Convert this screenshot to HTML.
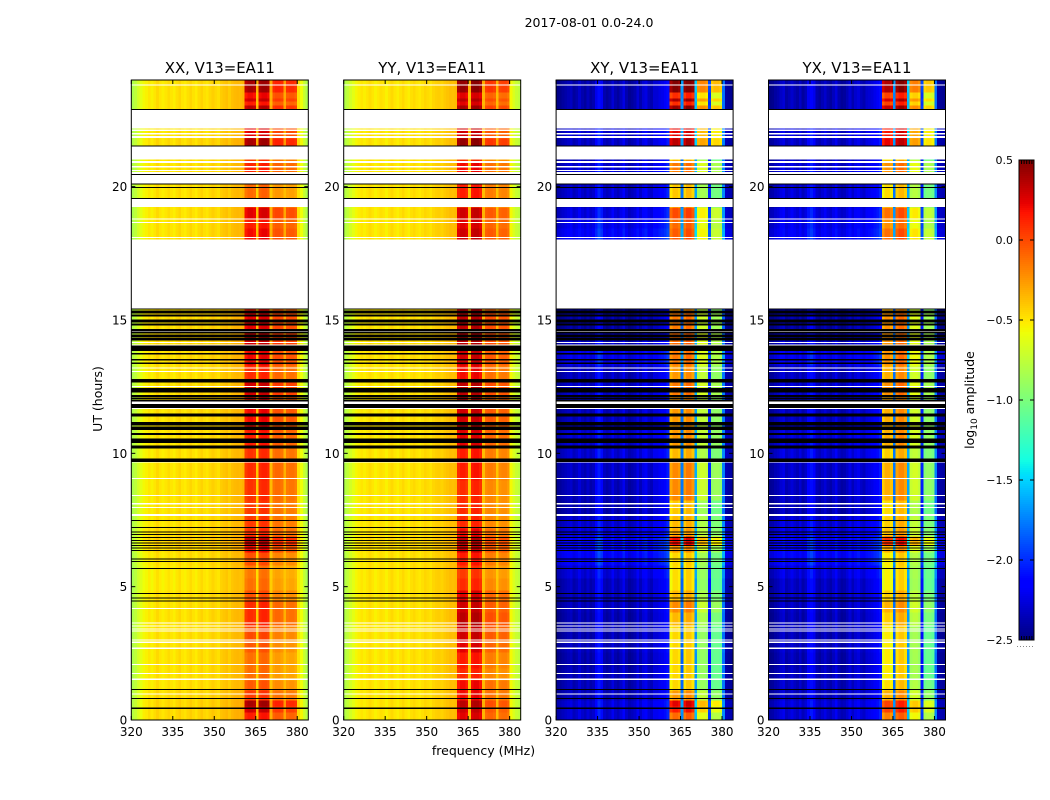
<!DOCTYPE html>
<html lang="en">
<head>
<meta charset="utf-8">
<title>2017-08-01 0.0-24.0</title>
<style>
html,body{margin:0;padding:0;background:#fff;}
svg{display:block;}
text{font-family:"DejaVu Sans","Liberation Sans",sans-serif;fill:#000;}
</style>
</head>
<body>
<svg id="chart" xmlns="http://www.w3.org/2000/svg" width="1050" height="800" viewBox="0 0 1050 800">
  <rect width="1050" height="800" fill="#fff"/>
  <text x="589" y="27" text-anchor="middle" font-size="12.5">2017-08-01 0.0-24.0</text>
  <text x="483.5" y="755" text-anchor="middle" font-size="12.5">frequency (MHz)</text>
  <text transform="translate(102 399) rotate(-90)" text-anchor="middle" font-size="12.5">UT (hours)</text>
  <text transform="translate(974 400) rotate(-90)" text-anchor="middle" font-size="12.5">log<tspan font-size="9" dy="3">10</tspan><tspan dy="-3"> amplitude</tspan></text>
  <g id="panels"></g>
  <g id="colorbar"></g>
</svg>
<script>
// ---- axes data ----
const channelFreqs = [320,321,322,323,324,325,326,327,328,329,330,331,332,333,334,335,336,337,338,339,340,341,342,343,344,345,346,347,348,349,350,351,352,353,354,355,356,357,358,359,360,361,362,363,364,365,366,367,368,369,370,371,372,373,374,375,376,377,378,379,380,381,382,383];
const xTickLabels = [320,335,350,365,380];
const yTickLabels = [0,5,10,15,20];
const colorbarTicks = [0.5,0,-0.5,-1,-1.5,-2,-2.5];
const panelTitles = ["XX, V13=EA11","YY, V13=EA11","XY, V13=EA11","YX, V13=EA11"];

// ---- log10 amplitude per channel, per polarisation ----
const xxProfile = [-0.82,-0.76,-0.68,-0.62,-0.56,-0.54,-0.5,-0.54,-0.5,-0.46,-0.5,-0.53,-0.5,-0.47,-0.5,-0.53,-0.48,-0.45,-0.5,-0.52,-0.48,-0.45,-0.49,-0.52,-0.47,-0.44,-0.48,-0.5,-0.46,-0.43,-0.46,-0.48,-0.42,-0.4,-0.38,-0.42,-0.38,-0.36,-0.35,-0.36,-0.34,-0.05,0,0,-0.03,-0.42,0,0.03,0.03,0,-0.38,-0.2,-0.17,-0.17,-0.2,-0.35,-0.22,-0.2,-0.2,-0.24,-0.48,-0.58,-0.72,-0.82];
const yyProfile = [-0.8,-0.74,-0.68,-0.62,-0.56,-0.53,-0.5,-0.53,-0.5,-0.47,-0.5,-0.54,-0.51,-0.48,-0.5,-0.54,-0.49,-0.46,-0.5,-0.53,-0.49,-0.46,-0.5,-0.53,-0.48,-0.46,-0.49,-0.51,-0.48,-0.45,-0.47,-0.49,-0.45,-0.43,-0.42,-0.44,-0.41,-0.39,-0.37,-0.38,-0.36,-0.05,0,0,-0.05,-0.42,0,0.03,0.03,-0.02,-0.4,-0.3,-0.27,-0.27,-0.3,-0.42,-0.32,-0.3,-0.3,-0.34,-0.56,-0.66,-0.72,-0.76];
const xyProfile = [-2.48,-2.46,-2.42,-2.39,-2.36,-2.33,-2.42,-2.38,-2.3,-2.38,-2.42,-2.34,-2.42,-2.38,-2.22,-2.1,-2.18,-2.38,-2.42,-2.38,-2.28,-2.38,-2.42,-2.34,-2.24,-2.38,-2.45,-2.42,-2.38,-2.28,-2.38,-2.28,-2.24,-2.34,-2.38,-2.28,-2.28,-2.24,-2.22,-2.18,-2.1,-0.55,-0.45,-0.45,-0.5,-1.85,-0.5,-0.4,-0.4,-0.5,-1.7,-0.95,-0.9,-0.9,-0.95,-2.1,-1.12,-1.07,-1.07,-1.12,-1.8,-2.4,-2.44,-2.46];
const yxProfile = [-2.48,-2.46,-2.41,-2.38,-2.32,-2.28,-2.4,-2.36,-2.3,-2.36,-2.4,-2.32,-2.42,-2.36,-2.2,-2.13,-2.22,-2.38,-2.42,-2.36,-2.3,-2.38,-2.42,-2.34,-2.26,-2.38,-2.44,-2.42,-2.36,-2.28,-2.38,-2.3,-2.26,-2.34,-2.38,-2.3,-2.28,-2.26,-2.22,-2.18,-2.1,-0.62,-0.52,-0.52,-0.58,-1.85,-0.48,-0.4,-0.4,-0.48,-1.7,-0.88,-0.84,-0.84,-0.9,-2.1,-1.12,-1.07,-1.07,-1.12,-1.8,-2.4,-2.44,-2.46];

// share of each channel following the band (hot) level rather than the background (cool) level
const hotWeights = [0,0,0,0,0,0,0,0,0,0,0,0,0,0,0,0,0,0,0,0,0,0,0,0,0,0,0,0,0,0,0,0,0,0,0,0,0,0,0,0,0,1,1,1,1,0.2,1,1,1,1,0.2,0.75,0.75,0.75,0.75,0.2,0.75,0.75,0.75,0.75,0,0,0,0];

// ---- time bins (UT hours) and level of each bin ----
const hourEdges = [0,0.3,0.53,0.75,1.13,1.5,1.95,2.55,3.0,3.56,4.05,4.5,4.88,5.33,5.81,6.3,6.56,6.9,7.2,7.65,8.25,9.0,9.68,10.2,10.88,11.74,12.19,12.75,13.31,14.06,14.63,15.34,15.45,18.04,18.45,18.83,19.24,19.58,19.95,20.14,20.55,21.0,21.53,21.83,22.2,22.91,23.06,23.21,23.33,23.55,24];
const xxHot = [0.15,0.3,0.4,0.05,-0.05,-0.12,-0.12,-0.05,0,0.1,0.1,-0.02,-0.12,-0.15,-0.02,0.2,0.35,0.08,0.05,0.05,0.08,0.1,0.08,0.15,0.2,0.2,0.3,0.1,0.22,0.3,0.25,0.15,0,0.2,0.15,0.25,0,-0.1,-0.1,0,0.12,0,0.4,0.25,0,0.35,0.15,0.3,0.2,0.4];
const yyHot = [0.25,0.3,0.35,0.2,0.2,0.1,0.15,0.25,0.3,0.35,0.3,0.25,0.1,0.05,0.15,0.3,0.35,0.2,0.1,0.1,0.1,0.15,0.15,0.25,0.3,0.3,0.35,0.2,0.3,0.35,0.35,0.25,0,0.3,0.25,0.3,0,0.15,0.15,0,0.2,0,0.45,0.3,0,0.4,0.25,0.35,0.25,0.45];
const xyHot = [0.35,0.6,0.7,0.2,0,0,0,0,0,0.1,0.25,0.1,-0.02,-0.02,0,0.2,0.65,0.15,0.1,0.05,0.25,0.25,0.1,0.2,0.2,0.2,0.3,0.2,0.3,0.35,0.3,0.2,0,0.4,0.35,0.45,0,0.05,0.05,0,0.3,0,0.8,0.7,0,0.9,0.55,0.85,0.55,0.95];
const yxHot = [0.35,0.55,0.55,0.2,0.05,0,0,0,0,0.1,0.2,0.1,-0.02,-0.02,0,0.2,0.6,0.15,0.1,0.05,0.2,0.2,0.1,0.2,0.2,0.2,0.3,0.2,0.3,0.3,0.3,0.2,0,0.4,0.3,0.4,0,0.05,0.05,0,0.3,0,0.75,0.7,0,0.85,0.55,0.8,0.55,0.9];
const xxCool = [0.03,0.03,0.03,0.02,0,0,0,0,0,0,0,0,-0.02,-0.02,0,0.03,0.05,0.02,0,0,0,0,0,0,0.01,0,0.01,0,0.02,0.02,0.02,0,0,0,0,0,0,0,0,0,0,0,0.02,0,0,0,0,0,0,0];
const yyCool = [0,0,0,0,0,0,0,0,0,0,0,0,0,0,0,0.02,0.03,0,0,0,0,0,0,0,0,0,0,0,0.01,0.01,0.01,0,0,0,0,0,0,0,0,0,0,0,0,0,0,0,0,0,0,0];
const xyCool = [0.08,0.08,0.1,0.03,0.03,0.02,0,0.03,0,0,0.02,0.03,0.03,0.1,0.2,0.22,0.22,0.1,0.08,0,0.03,0.05,0.08,0.08,0.03,0.06,0.05,0.03,0.15,0.03,-0.05,-0.05,0,0.2,0.15,0.12,0,0.08,0.05,0,0.08,0,0.05,0.08,0,0,0,0,0,0];
const yxCool = [0.07,0.07,0.09,0.03,0.03,0.02,0,0.03,0,0,0.02,0.03,0.03,0.1,0.2,0.2,0.2,0.1,0.08,0,0.03,0.05,0.08,0.08,0.03,0.06,0.05,0.03,0.15,0.03,-0.05,-0.05,0,0.18,0.14,0.12,0,0.08,0.05,0,0.08,0,0.05,0.08,0,0,0,0,0,0];

// ---- flagged intervals (UT hours): no data = white, zero amplitude = black ----
const whiteFlagStarts = [0.96,1.5,1.73,2.06,2.66,2.89,2.98,3.31,3.41,3.51,3.62,4.16,7.65,7.95,8.09,8.4,9.04,9.65,11.67,11.85,12.48,13.06,13.19,14.07,14.15,14.57,15.44,18.08,18.64,18.77,19.24,20.12,20.48,20.59,20.72,20.89,21.02,21.83,21.96,22.09,22.18,23.8];
const whiteFlagEnds = [0.99,1.56,1.76,2.1,2.72,2.94,3.02,3.35,3.44,3.54,3.65,4.2,7.72,7.99,8.14,8.44,9.08,9.69,11.7,11.94,12.53,13.09,13.21,14.09,14.17,14.6,18.02,18.11,18.68,18.8,19.54,20.44,20.55,20.63,20.78,20.96,21.51,21.9,22.01,22.14,22.88,23.84];
const blackFlagStarts = [0.41,0.795,1.14,4.44,4.56,4.72,5.66,5.92,6.02,6.35,6.44,6.53,6.62,6.72,6.84,6.94,7.03,7.2,7.48,9.68,10.18,10.39,10.68,10.88,11.04,11.39,11.7,11.94,12.04,12.11,12.28,12.66,13.35,13.48,13.7,13.83,13.9,14.24,14.35,14.49,14.59,14.79,14.91,15.14,15.25,15.4,19.54,19.95,20.08,20.44,21.51,22.88];
const blackFlagEnds = [0.46,0.825,1.17,4.48,4.6,4.76,5.7,5.96,6.06,6.38,6.47,6.56,6.65,6.75,6.87,6.97,7.07,7.23,7.5,9.8,10.3,10.55,10.76,11.01,11.17,11.49,11.85,12.01,12.1,12.19,12.45,12.79,13.41,13.54,13.76,13.89,14.05,14.32,14.45,14.56,14.67,14.86,15.02,15.2,15.35,15.44,19.58,19.99,20.12,20.48,21.55,22.91];

const profiles = [xxProfile,yyProfile,xyProfile,yxProfile];
const hots = [xxHot,yyHot,xyHot,yxHot];
const cools = [xxCool,yyCool,xyCool,yxCool];
const panelKeys = ["xx","yy","xy","yx"];

const SVGNS = "http://www.w3.org/2000/svg";
const AXIS_TOP = 80, AXIS_BOTTOM = 720, PANEL_W = 177, PANEL_STEP = 212.4, PANEL_LEFT = 131.3;
const xMin = 320, xMax = 384, yMin = 0, yMax = 24, vMin = -2.5, vMax = 0.5;
const CB_X = 1019, CB_W = 15, CB_TOP = 160, CB_BOTTOM = 640;

function xScale(left, f){ return left + (f - xMin) / (xMax - xMin) * PANEL_W; }
function yScale(h){ return AXIS_BOTTOM - (h - yMin) / (yMax - yMin) * (AXIS_BOTTOM - AXIS_TOP); }
function cbScale(v){ return CB_BOTTOM - (v - vMin) / (vMax - vMin) * (CB_BOTTOM - CB_TOP); }

function lerpStops(t, stops){
  if (t <= stops[0][0]) return stops[0][1];
  for (let i = 1; i < stops.length; i++) {
    if (t <= stops[i][0]) {
      const a = stops[i-1], b = stops[i];
      return a[1] + (b[1] - a[1]) * (t - a[0]) / (b[0] - a[0]);
    }
  }
  return stops[stops.length-1][1];
}
const RED = [[0,0],[0.35,0],[0.66,1],[0.89,1],[1,0.5]];
const GREEN = [[0,0],[0.125,0],[0.375,1],[0.64,1],[0.91,0],[1,0]];
const BLUE = [[0,0.5],[0.11,1],[0.34,1],[0.65,0],[1,0]];
function jet(v){
  const t = Math.max(0, Math.min(1, (v - vMin) / (vMax - vMin)));
  return "rgb(" + Math.round(255*lerpStops(t,RED)) + "," + Math.round(255*lerpStops(t,GREEN)) + "," + Math.round(255*lerpStops(t,BLUE)) + ")";
}
function mk(tag, parent){
  const el = document.createElementNS(SVGNS, tag);
  parent.appendChild(el);
  return el;
}
function tick(parent, x1, y1, x2, y2){
  const l = mk("line", parent);
  
  
  l.setAttribute("x1", x1); l.setAttribute("y1", y1);
  l.setAttribute("x2", x2); l.setAttribute("y2", y2);
  l.setAttribute("stroke", "#000");
  l.setAttribute("stroke-width", "1");
  return l;
}

const panelsG = document.getElementById("panels");
panelTitles.forEach(function(title, p){
  const left = PANEL_LEFT + p * PANEL_STEP;
  const g = mk("g", panelsG);
  
  

  const cells = mk("g", g);
  
  
  cells.setAttribute("shape-rendering", "crispEdges");

  for (let s = 0; s < hourEdges.length - 1; s++) {
    const yTop = yScale(hourEdges[s+1]), yBot = yScale(hourEdges[s]);
    for (let c = 0; c < channelFreqs.length; c++) {
      const w = hotWeights[c];
      const value = profiles[p][c] + w * hots[p][s] + (1 - w) * cools[p][s];
      const x0 = xScale(left, channelFreqs[c]);
      const x1 = xScale(left, channelFreqs[c] + 1);
      const r = mk("rect", cells);
      
      
      r.setAttribute("x", x0.toFixed(2));
      r.setAttribute("y", yTop.toFixed(2));
      r.setAttribute("width", (x1 - x0 + 0.4).toFixed(2));
      r.setAttribute("height", (yBot - yTop + 0.4).toFixed(2));
      r.setAttribute("fill", jet(value));
    }
  }

  const flags = mk("g", g);
  
  
  flags.setAttribute("shape-rendering", "crispEdges");
  whiteFlagStarts.forEach(function(h0, i){
    const r = mk("rect", flags);
    
    
    r.setAttribute("x", left); r.setAttribute("width", PANEL_W);
    r.setAttribute("y", yScale(whiteFlagEnds[i]).toFixed(2));
    r.setAttribute("height", Math.max(1, yScale(h0) - yScale(whiteFlagEnds[i])).toFixed(2));
    r.setAttribute("fill", "#fff");
  });
  blackFlagStarts.forEach(function(h0, i){
    const r = mk("rect", flags);
    
    
    r.setAttribute("x", left); r.setAttribute("width", PANEL_W);
    r.setAttribute("y", yScale(blackFlagEnds[i]).toFixed(2));
    r.setAttribute("height", Math.max(1, yScale(h0) - yScale(blackFlagEnds[i])).toFixed(2));
    r.setAttribute("fill", "#000");
  });

  const spine = mk("rect", g);
  
  
  spine.setAttribute("x", left); spine.setAttribute("y", AXIS_TOP);
  spine.setAttribute("width", PANEL_W); spine.setAttribute("height", AXIS_BOTTOM - AXIS_TOP);
  spine.setAttribute("fill", "none");
  spine.setAttribute("stroke", "#000");
  spine.setAttribute("stroke-width", "1");

  xTickLabels.forEach(function(f){
    const x = xScale(left, f);
    tick(g, x, AXIS_BOTTOM, x, AXIS_BOTTOM - 4);
    tick(g, x, AXIS_TOP, x, AXIS_TOP + 4);
    const t = mk("text", g);
    
    
    t.setAttribute("x", x); t.setAttribute("y", 736);
    t.setAttribute("text-anchor", "middle");
    t.setAttribute("font-size", "12");
    t.textContent = f;
  });
  yTickLabels.forEach(function(h){
    const y = yScale(h);
    tick(g, left, y, left + 4, y);
    tick(g, left + PANEL_W, y, left + PANEL_W - 4, y);
    const t = mk("text", g);
    
    
    t.setAttribute("x", left - 4); t.setAttribute("y", y + 4.5);
    t.setAttribute("text-anchor", "end");
    t.setAttribute("font-size", "12");
    t.textContent = h;
  });

  const tt = mk("text", g);
  
  
  tt.setAttribute("x", left + PANEL_W / 2); tt.setAttribute("y", 73);
  tt.setAttribute("text-anchor", "middle");
  tt.setAttribute("font-size", "14.9");
  tt.textContent = title;
});

// colorbar
const cb = document.getElementById("colorbar");
const cbCells = mk("g", cb);


cbCells.setAttribute("shape-rendering", "crispEdges");
for (let py = CB_TOP; py < CB_BOTTOM; py += 2) {
  const v = vMax - (py + 1 - CB_TOP) / (CB_BOTTOM - CB_TOP) * (vMax - vMin);
  const r = mk("rect", cbCells);
  
  
  r.setAttribute("x", CB_X); r.setAttribute("y", py);
  r.setAttribute("width", CB_W); r.setAttribute("height", 2.4);
  r.setAttribute("fill", jet(v));
}
const cbFrame = mk("rect", cb);


cbFrame.setAttribute("x", CB_X); cbFrame.setAttribute("y", CB_TOP);
cbFrame.setAttribute("width", CB_W); cbFrame.setAttribute("height", CB_BOTTOM - CB_TOP);
cbFrame.setAttribute("fill", "none");
cbFrame.setAttribute("stroke", "#000");
colorbarTicks.forEach(function(v){
  const y = cbScale(v);
  tick(cb, CB_X, y, CB_X + 4, y);
  tick(cb, CB_X + CB_W, y, CB_X + CB_W - 4, y);
  const t = mk("text", cb);
  
  
  t.setAttribute("x", 1013); t.setAttribute("y", y + 4);
  t.setAttribute("text-anchor", "end");
  t.setAttribute("font-size", "11");
  t.textContent = v.toFixed(1).replace("-", "\u2212");
});
for (let i = 0; i < 5; i++) {
  const x = CB_X + 2.5 + i * 2.6;
  tick(cb, x, CB_TOP, x, CB_TOP + 4);
  tick(cb, x, CB_BOTTOM, x, CB_BOTTOM - 4);
}
const dots = mk("line", cb);


dots.setAttribute("x1", 1017); dots.setAttribute("x2", 1035);
dots.setAttribute("y1", 646.5); dots.setAttribute("y2", 646.5);
dots.setAttribute("stroke", "#888");
dots.setAttribute("stroke-dasharray", "1 2");
</script>
</body>
</html>
